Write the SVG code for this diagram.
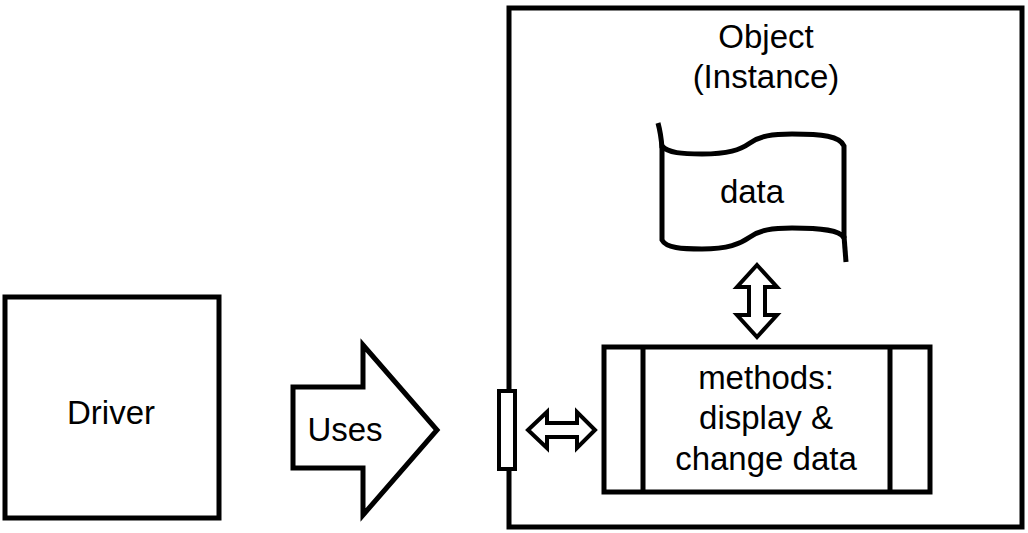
<svg xmlns="http://www.w3.org/2000/svg" width="1028" height="533" viewBox="0 0 1028 533">
<style>
.shape{fill:#fff;stroke:#000;stroke-width:5;stroke-linejoin:miter}
.thin{fill:#fff;stroke:#000;stroke-width:4;stroke-linejoin:miter}
.line{fill:none;stroke:#000;stroke-width:5}
.lbl{font-family:"Liberation Sans",Arial,sans-serif;font-size:33px;fill:#000;text-anchor:middle}
</style>
<rect width="1028" height="533" fill="#fff"/>
<g id="object">
<rect class="shape" x="509" y="8" width="513" height="519"/>
<text class="lbl" x="766" y="48">Object</text>
<text class="lbl" x="766" y="88">(Instance)</text>
</g>
<g id="driver">
<rect class="shape" x="5" y="297" width="214" height="221"/>
<text class="lbl" x="111" y="424">Driver</text>
</g>
<g id="data">
<path class="shape" d="M662,146 C668,153 682,154 702,154 C728,154 740,150 750,143 C760,136 772,134 792,134 C822,134 840,136 844,146 L844,238 C840,230 822,228 792,228 C772,228 760,230 750,237 C740,244 728,249 702,249 C682,249 666,248 662,240 Z"/>
<path class="line" stroke-width="3" d="M662,148 Q661,134 658,123"/>
<path class="line" stroke-width="4" d="M844,236 L846,262"/>
<text class="lbl" x="752" y="203">data</text>
</g>
<g id="methods">
<rect class="shape" x="604" y="347" width="326" height="145"/>
<line class="line" x1="643" y1="347" x2="643" y2="492"/>
<line class="line" x1="890" y1="347" x2="890" y2="492"/>
<text class="lbl" x="766" y="389">methods:</text>
<text class="lbl" x="766" y="429">display &amp;</text>
<text class="lbl" x="766" y="470">change data</text>
</g>
<g id="interface">
<rect class="thin" x="499" y="391" width="16" height="78"/>
</g>
<g id="connectors">
<g id="uses">
<path class="shape" d="M293,387 L363,387 L363,345 L437,430 L363,515 L363,468 L293,468 Z"/>
<text class="lbl" x="345" y="441">Uses</text>
</g>
<path class="thin" d="M528,430 L547,412 L547,423 L577,423 L577,412 L595,430 L577,448 L577,437 L547,437 L547,448 Z"/>
<path class="thin" d="M757,265 L777,287 L765,287 L765,315 L777,315 L757,337 L737,315 L749,315 L749,287 L737,287 Z"/>
</g>
</svg>
